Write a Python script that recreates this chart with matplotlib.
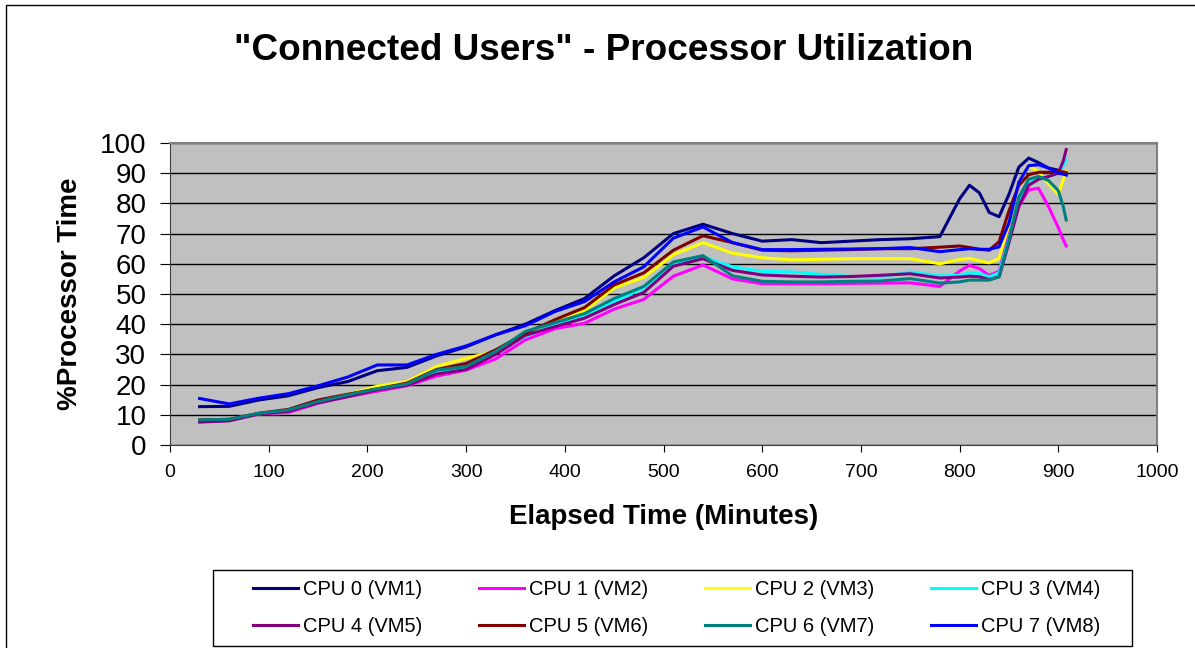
from matplotlib import pyplot as plt
from matplotlib.patches import Rectangle
import numpy as np

plt.rcParams['font.family'] = ['Liberation Sans', 'DejaVu Sans']

# elapsed minutes of each sample
minutes = [30, 60, 90, 120, 150, 180, 210, 240, 270, 300, 330, 360, 390, 420,
           450, 480, 510, 540, 570, 600, 630, 660, 690, 720, 750, 780, 800,
           810, 820, 830, 840, 850, 860, 870, 880, 890, 900, 905, 908]

cpu0 = [12.7, 12.8, 14.9, 16.3, 19.0, 21.0, 24.6, 25.7, 29.5, 32.5, 36.5, 40.0,
        44.5, 48.5, 56.0, 62.0, 70.0, 73.1, 70.0, 67.5, 68.0, 67.0, 67.5, 68.0,
        68.3, 69.0, 81.5, 86.0, 83.5, 77.0, 75.6, 83.0, 92.0, 95.0, 93.5, 91.7,
        91.0, 89.8, 89.5]
cpu1 = [7.7, 8.1, 10.2, 10.8, 13.8, 16.0, 17.8, 19.6, 22.8, 24.8, 28.5, 34.8,
        38.5, 40.3, 45.0, 48.2, 55.9, 59.6, 55.0, 53.4, 53.4, 53.4, 53.5, 53.6,
        53.7, 52.5, 57.6, 59.5, 58.4, 56.2, 57.5, 70.0, 79.0, 84.5, 85.0, 79.0,
        72.0, 68.0, 65.9]
cpu2 = [8.2, 8.4, 10.4, 11.6, 14.4, 16.8, 19.5, 21.0, 26.0, 28.7, 31.0, 36.5,
        41.5, 44.5, 52.0, 55.5, 63.0, 67.0, 63.5, 62.0, 61.3, 61.5, 61.7, 61.7,
        61.7, 60.0, 61.4, 61.8, 61.0, 60.3, 61.8, 73.0, 87.0, 92.5, 90.5, 86.5,
        83.0, 87.8, 90.6]
cpu3 = [8.0, 8.3, 10.4, 11.5, 14.2, 16.4, 18.5, 20.0, 24.3, 25.4, 30.5, 36.0,
        39.8, 43.0, 47.5, 52.0, 59.8, 62.3, 59.0, 57.5, 57.3, 56.5, 55.8, 55.6,
        57.3, 56.0, 56.2, 57.0, 56.8, 55.7, 57.0, 68.5, 81.0, 86.5, 88.3, 88.9,
        90.0, 92.5, 94.4]
cpu4 = [7.6, 8.0, 10.3, 11.2, 14.0, 16.0, 18.3, 19.8, 23.5, 25.0, 30.0, 36.3,
        39.2, 42.0, 46.5, 50.5, 59.2, 61.7, 57.8, 56.3, 55.9, 55.6, 55.8, 56.2,
        56.7, 55.3, 55.6, 55.9, 55.7, 54.8, 55.7, 67.0, 79.0, 86.0, 88.0, 88.9,
        90.0, 94.0, 97.8]
cpu5 = [8.3, 8.5, 10.5, 11.8, 14.9, 16.8, 18.6, 20.5, 25.0, 27.0, 31.5, 37.0,
        41.5, 45.5, 53.0, 57.0, 64.5, 69.3, 67.0, 64.5, 64.3, 64.5, 64.7, 65.0,
        65.0, 65.5, 65.9, 65.4, 64.8, 64.5, 67.3, 77.5, 86.0, 89.5, 90.3, 90.3,
        90.6, 90.4, 90.2]
cpu6 = [8.3, 8.5, 10.5, 11.6, 14.4, 16.6, 18.6, 20.2, 24.8, 26.0, 31.0, 37.6,
        40.5, 43.5, 48.5, 52.5, 60.6, 62.7, 56.0, 54.2, 54.0, 54.0, 54.2, 54.3,
        55.1, 53.6, 54.0, 54.6, 54.6, 54.6, 55.7, 68.0, 82.0, 88.0, 88.9, 87.6,
        84.2, 79.0, 74.5]
cpu7 = [15.4, 13.6, 15.5, 17.0, 19.6, 22.5, 26.5, 26.5, 30.0, 32.8, 36.5, 39.5,
        44.2, 47.5, 54.0, 59.0, 68.5, 72.2, 67.0, 64.7, 64.7, 64.8, 64.9, 65.0,
        65.4, 64.0, 64.7, 65.0, 64.8, 64.8, 65.6, 73.5, 87.0, 92.5, 92.8, 91.7,
        90.0, 89.7, 89.4]

labels = ['CPU 0 (VM1)', 'CPU 1 (VM2)', 'CPU 2 (VM3)', 'CPU 3 (VM4)',
          'CPU 4 (VM5)', 'CPU 5 (VM6)', 'CPU 6 (VM7)', 'CPU 7 (VM8)']
series = [cpu0, cpu1, cpu2, cpu3, cpu4, cpu5, cpu6, cpu7]
colors = ['#000080', '#FF00FF', '#FFFF00', '#00FFFF',
          '#800080', '#800000', '#008080', '#0000FF']

fig = plt.figure(figsize=(11.95, 6.48), dpi=100)
ax = fig.add_axes([170 / 1195, 1 - 445 / 648, 987 / 1195, 302 / 648])
ax.set_facecolor('#C0C0C0')

lines = []
for vals, lab, col in zip(series, labels, colors):
    ln, = ax.plot(minutes, vals, color=col, lw=2.2, label=lab,
                  solid_joinstyle='round')
    lines.append(ln)

ax.set_xlim(0, 1000)
ax.set_ylim(0, 100)
ax.set_xticks(np.arange(0, 1001, 100))
ax.set_yticks(np.arange(0, 101, 10))
ax.yaxis.grid(True, color='#000000', lw=1)
ax.set_axisbelow(True)
ax.tick_params(axis='y', labelsize=20, length=7, pad=10, direction='out')
ax.tick_params(axis='x', labelsize=14, length=5, pad=9, direction='out')
for s in ['top', 'right']:
    ax.spines[s].set_color('#808080')
    ax.spines[s].set_linewidth(1.5)
for s in ['left', 'bottom']:
    ax.spines[s].set_color('#404040')

ax.set_xlabel('Elapsed Time (Minutes)', fontsize=20, fontweight='bold', labelpad=16)
ax.set_ylabel('%Processor Time', fontsize=20, fontweight='bold', labelpad=12)

fig.text(604 / 1195, 1 - 60 / 648, '"Connected Users" - Processor Utilization',
         fontsize=26.6, fontweight='bold', ha='center', va='baseline')

# outer chart border
fig.patches.append(Rectangle((6 / 1195, -0.01), 1.02, 1 - 5 / 648 + 0.01,
                             transform=fig.transFigure, fill=False,
                             edgecolor='black', lw=1))

# legend box drawn separately, entries in rows: cpu0..3 then cpu4..7
fig.patches.append(Rectangle((213 / 1195, 1 - 646 / 648), 919 / 1195, 76 / 648,
                             transform=fig.transFigure, fill=False,
                             edgecolor='black', lw=1))
order = [0, 4, 1, 5, 2, 6, 3, 7]
leg = fig.legend([lines[i] for i in order], [labels[i] for i in order],
                 ncol=4, loc='center left', frameon=False,
                 bbox_to_anchor=(253 / 1195, 1 - 608 / 648),
                 fontsize=14.5, handlelength=2.25, handletextpad=0.25,
                 columnspacing=2.8, labelspacing=0.85, borderpad=0,
                 borderaxespad=0)

plt.savefig('out.png', dpi=100)
